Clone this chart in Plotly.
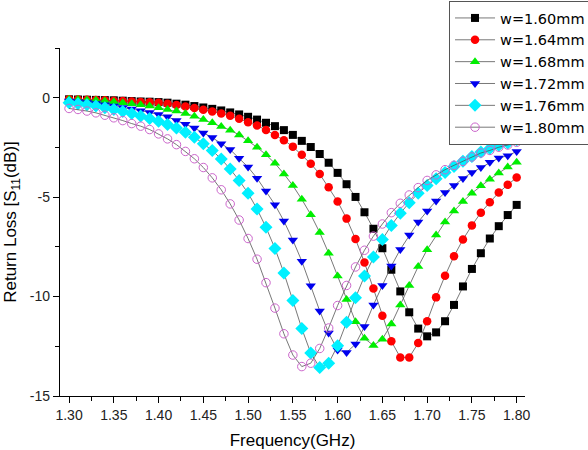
import plotly.graph_objects as go

freq = [1.30, 1.31, 1.32, 1.33, 1.34, 1.35, 1.36, 1.37, 1.38, 1.39,
        1.40, 1.41, 1.42, 1.43, 1.44, 1.45, 1.46, 1.47, 1.48, 1.49,
        1.50, 1.51, 1.52, 1.53, 1.54, 1.55, 1.56, 1.57, 1.58, 1.59,
        1.60, 1.61, 1.62, 1.63, 1.64, 1.65, 1.66, 1.67, 1.68, 1.69,
        1.70, 1.71, 1.72, 1.73, 1.74, 1.75, 1.76, 1.77, 1.78, 1.79, 1.80]

w160 = [-0.08, -0.09, -0.10, -0.11, -0.12, -0.13, -0.15, -0.17, -0.19, -0.20,
        -0.22, -0.25, -0.30, -0.35, -0.42, -0.49, -0.56, -0.64, -0.74, -0.84,
        -0.96, -1.10, -1.26, -1.43, -1.63, -1.87, -2.17, -2.48, -2.83, -3.27,
        -3.78, -4.35, -4.99, -5.76, -6.59, -7.57, -8.65, -9.74, -10.79, -11.61,
        -12.00, -11.80, -11.24, -10.42, -9.49, -8.61, -7.82, -7.08, -6.46, -5.90, -5.39]

w164 = [-0.08, -0.09, -0.10, -0.12, -0.13, -0.15, -0.17, -0.19, -0.21, -0.23,
        -0.25, -0.30, -0.37, -0.44, -0.52, -0.61, -0.69, -0.79, -0.91, -1.06,
        -1.23, -1.40, -1.62, -1.87, -2.14, -2.46, -2.87, -3.32, -3.84, -4.50,
        -5.22, -6.08, -7.11, -8.29, -9.59, -10.97, -12.25, -13.06, -13.06, -12.34,
        -11.24, -10.04, -8.95, -7.97, -7.13, -6.42, -5.78, -5.26, -4.77, -4.38, -4.01]

w168 = [-0.08, -0.09, -0.11, -0.13, -0.16, -0.20, -0.25, -0.30, -0.35, -0.42,
        -0.51, -0.59, -0.67, -0.79, -0.93, -1.10, -1.26, -1.45, -1.63, -1.87,
        -2.16, -2.49, -2.87, -3.30, -3.83, -4.42, -5.11, -5.88, -6.78, -7.82,
        -8.97, -10.15, -11.26, -12.10, -12.46, -12.14, -11.38, -10.42, -9.44, -8.49,
        -7.64, -6.91, -6.25, -5.70, -5.22, -4.80, -4.43, -4.10, -3.79, -3.49, -3.25]

w172 = [-0.17, -0.20, -0.24, -0.29, -0.35, -0.42, -0.49, -0.57, -0.65, -0.74,
        -0.84, -0.96, -1.15, -1.33, -1.52, -1.77, -2.00, -2.31, -2.61, -3.05,
        -3.49, -4.05, -4.69, -5.38, -6.20, -7.16, -8.22, -9.46, -10.72, -11.83,
        -12.69, -12.81, -12.39, -11.51, -10.42, -9.44, -8.46, -7.63, -6.91, -6.25,
        -5.70, -5.19, -4.77, -4.42, -4.06, -3.76, -3.51, -3.25, -3.03, -2.92, -2.70]

w176 = [-0.25, -0.30, -0.35, -0.42, -0.50, -0.59, -0.69, -0.80, -0.92, -1.05,
        -1.18, -1.35, -1.52, -1.74, -1.99, -2.31, -2.66, -3.08, -3.59, -4.16,
        -4.80, -5.60, -6.52, -7.58, -8.81, -10.20, -11.61, -12.84, -13.57, -13.35,
        -12.47, -11.29, -10.06, -8.97, -8.01, -7.13, -6.42, -5.81, -5.28, -4.80,
        -4.42, -4.08, -3.76, -3.46, -3.20, -2.95, -2.73, -2.56, -2.39, -2.28, -2.11]

w180 = [-0.54, -0.59, -0.67, -0.76, -0.88, -1.01, -1.15, -1.30, -1.43, -1.60,
        -1.82, -2.07, -2.36, -2.70, -3.07, -3.51, -4.03, -4.63, -5.34, -6.15,
        -7.08, -8.12, -9.30, -10.58, -11.87, -12.94, -13.52, -13.35, -12.61, -11.58,
        -10.45, -9.44, -8.51, -7.67, -6.96, -6.35, -5.78, -5.31, -4.89, -4.52,
        -4.16, -3.88, -3.62, -3.40, -3.20, -2.98, -2.78, -2.65, -2.49, -2.38, -2.24]

names = ["w=1.60mm", "w=1.64mm", "w=1.68mm", "w=1.72mm", "w=1.76mm", "w=1.80mm"]
series = [w160, w164, w168, w172, w176, w180]
colors = ["#000000", "#ff0000", "#00ee00", "#0000ee", "#00f0ff", "#cc66cc"]
symbols = ["square", "circle", "triangle-up", "triangle-down", "diamond", "circle-open"]
sizes = [8, 8.5, 9, 9, 10, 8.5]

FONT = "Arial, 'Liberation Sans', sans-serif"

fig = go.Figure()
for name, ys, col, sym, sz in zip(names, series, colors, symbols, sizes):
    fig.add_trace(go.Scatter(
        x=freq, y=ys, name=name, mode="lines+markers",
        line=dict(color="#555555", width=0.8),
        marker=dict(symbol=sym, size=sz, color=col,
                    line=dict(width=1 if sym == "circle-open" else 0, color=col)),
    ))

axis_common = dict(
    showline=True, linecolor="black", linewidth=1.3, mirror=False,
    showgrid=False, zeroline=False,
    ticks="outside", ticklen=6, tickwidth=1.2, tickcolor="black",
    tickfont=dict(family=FONT, size=14, color="#222222"),
)

fig.update_xaxes(
    range=[1.2899, 1.8093], tickmode="array",
    tickvals=[1.30, 1.35, 1.40, 1.45, 1.50, 1.55, 1.60, 1.65, 1.70, 1.75, 1.80],
    ticktext=["1.30", "1.35", "1.40", "1.45", "1.50", "1.55", "1.60", "1.65", "1.70", "1.75", "1.80"],
    minor=dict(tickvals=[1.325, 1.375, 1.425, 1.475, 1.525, 1.575, 1.625, 1.675, 1.725, 1.775],
               ticks="outside", ticklen=4, tickwidth=1.2, tickcolor="black"),
    title=dict(text="Frequency(GHz)", font=dict(family=FONT, size=17, color="black"), standoff=14),
    **axis_common,
)
fig.update_yaxes(
    range=[-15, 2.5], tickmode="array",
    tickvals=[-15, -10, -5, 0], ticktext=["-15", "-10", "-5", "0"],
    minor=dict(tickvals=[-12.5, -7.5, -2.5, 2.5],
               ticks="outside", ticklen=4, tickwidth=1.2, tickcolor="black"),
    title=dict(text="Return Loss [S<sub>11</sub>(dB)]", font=dict(family=FONT, size=17, color="black"), standoff=8),
    **axis_common,
)

fig.update_layout(
    width=588, height=450,
    margin=dict(l=60, r=63, t=48, b=54, autoexpand=False),
    paper_bgcolor="white", plot_bgcolor="white",
    showlegend=True,
    legend=dict(
        x=0.8366, y=1.135, xanchor="left", yanchor="top",
        bordercolor="#555555", borderwidth=1, bgcolor="white",
        font=dict(family="'DejaVu Sans', Arial, sans-serif", size=14.5, color="black"),
        itemwidth=40, tracegroupgap=0,
    ),
)

fig.write_html("out.html")
